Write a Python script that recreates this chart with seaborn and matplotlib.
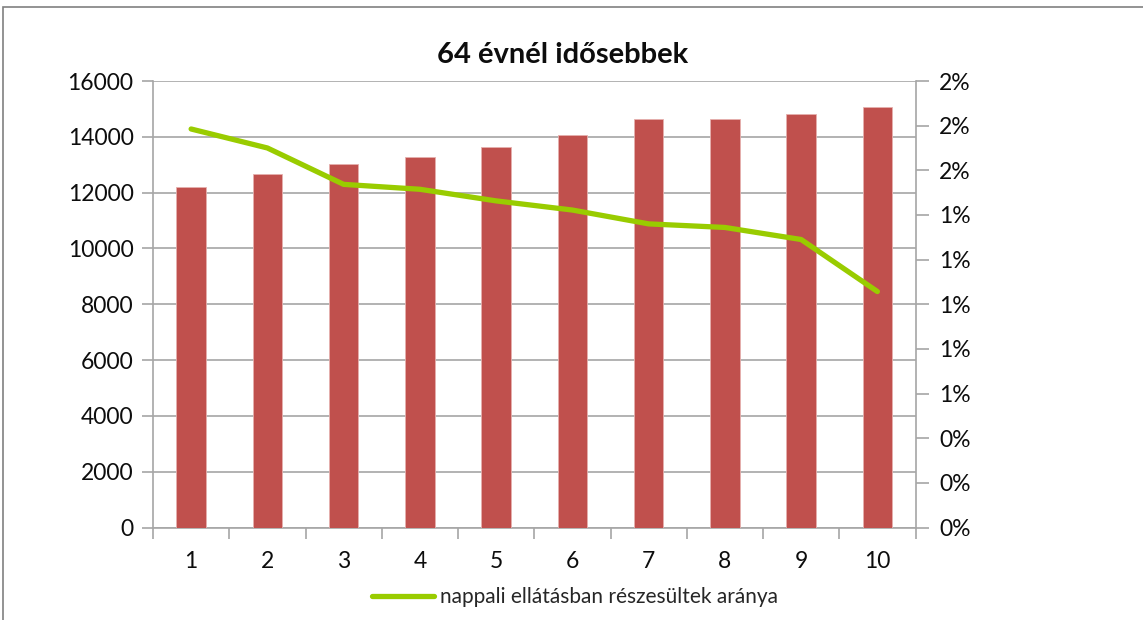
import numpy as np
import pandas as pd
import seaborn as sns
import matplotlib.pyplot as plt
from matplotlib.ticker import PercentFormatter, MultipleLocator, FixedLocator
from matplotlib.patches import Rectangle

# ==== Adatok ====
kategoriak = ["1", "2", "3", "4", "5", "6", "7", "8", "9", "10"]
letszam = [12200, 12650, 13030, 13290, 13650, 14060, 14640, 14640, 14830, 15060]
arany = [0.01785, 0.01700, 0.01537, 0.01515, 0.01463, 0.01422, 0.01360, 0.01344, 0.01290, 0.01057]

cim = "64 évnél idősebbek"
vonal_cimke = "nappali ellátásban részesültek aránya"

df = pd.DataFrame({"kat": kategoriak, "letszam": letszam, "arany": arany})
df["pos"] = np.arange(len(df))

sns.set_style("white")
plt.rcParams["font.family"] = ["Lato", "DejaVu Sans"]
szurke = "#a6a6a6"

fig = plt.figure(figsize=(11.43, 6.2), dpi=100)
ax = fig.add_axes([153 / 1143, 1 - 527.5 / 620, (915.5 - 153) / 1143, (527.5 - 81) / 620])

# ==== Oszlopok (bal tengely) ====
sns.barplot(data=df, x="kat", y="letszam", color="#C0504D", saturation=1,
            width=0.39, ax=ax, zorder=3)
for p in ax.patches:
    p.set_edgecolor("#e6b0ae")
    p.set_linewidth(0.6)

ax.set_ylim(0, 16000)
ax.set_xlim(-0.5, len(kategoriak) - 0.5)
ax.yaxis.set_major_locator(MultipleLocator(2000))
ax.grid(axis="y", color=szurke, linewidth=1.2, zorder=0)
ax.set_axisbelow(True)
ax.set_xlabel("")
ax.set_ylabel("")
for s in ["top", "right"]:
    ax.spines[s].set_visible(False)
for s in ["left", "bottom"]:
    ax.spines[s].set_color(szurke)
    ax.spines[s].set_linewidth(1.2)
ax.tick_params(axis="y", which="major", length=8, width=1.2, color=szurke,
               labelsize=16.5, pad=6, labelcolor="#0d0d0d", left=True)
ax.tick_params(axis="x", which="major", length=0, labelsize=16.5, pad=17, labelcolor="#0d0d0d")
ax.xaxis.set_minor_locator(FixedLocator(np.arange(-0.5, len(kategoriak), 1.0)))
ax.tick_params(axis="x", which="minor", length=8, width=1.2, color=szurke, bottom=True)

# ==== Vonal (jobb tengely) ====
ax2 = ax.twinx()
sns.lineplot(data=df, x="pos", y="arany", color="#99CC00", linewidth=3.8,
             ax=ax2, label=vonal_cimke, legend=False, zorder=4)
ax2.set_ylim(0, 0.02)
ax2.set_xlim(-0.5, len(kategoriak) - 0.5)
ax2.yaxis.set_major_locator(MultipleLocator(0.002))
ax2.yaxis.set_major_formatter(PercentFormatter(xmax=1, decimals=0))
ax2.set_ylabel("")
ax2.set_xlabel("")
for s in ["top", "left", "bottom"]:
    ax2.spines[s].set_visible(False)
ax2.spines["right"].set_color(szurke)
ax2.spines["right"].set_linewidth(1.2)
ax2.tick_params(axis="y", length=9, width=1.2, color=szurke, labelsize=16.5,
                pad=8, labelcolor="#0d0d0d", right=True)

# ==== Cím és jelmagyarázat ====
fig.text(0.492, 1 - 55 / 620, cim, ha="center", va="center",
         fontsize=21, fontweight="bold", color="#0d0d0d")
h, l = ax2.get_legend_handles_labels()
fig.legend(h, l, loc="center", bbox_to_anchor=(0.503, 1 - 597 / 620), frameon=False,
           fontsize=15, handlelength=3.0, handletextpad=0.3)

# keret
fig.add_artist(Rectangle((3 / 1143, -0.1), 1.2, 1 - 7 / 620 + 0.1, transform=fig.transFigure,
                         fill=False, edgecolor="#808080", linewidth=1.2))

fig.savefig("out.png", dpi=100)
